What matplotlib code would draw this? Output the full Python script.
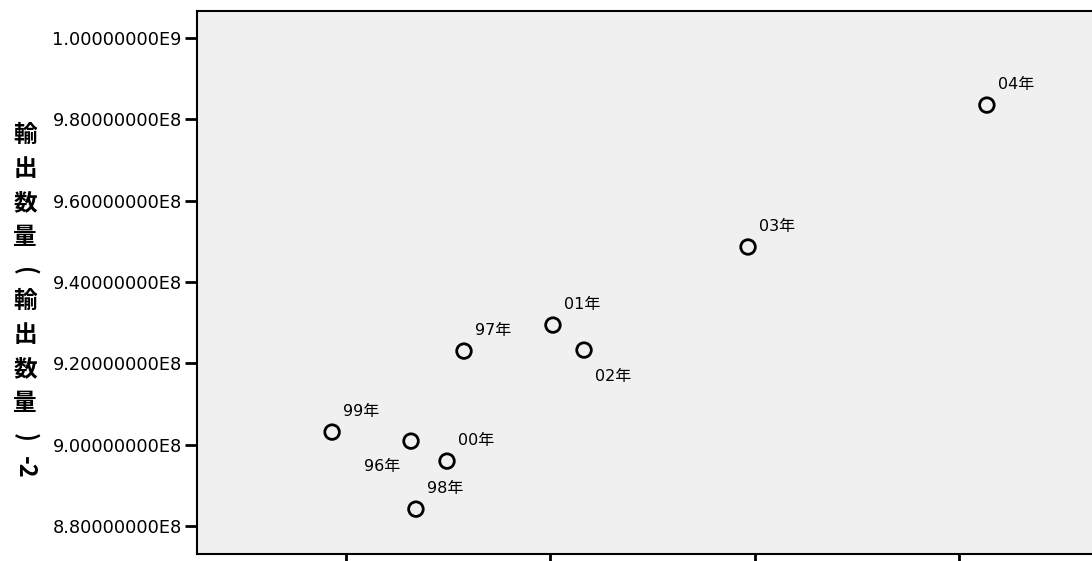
import matplotlib
matplotlib.use("Agg")
import matplotlib.pyplot as plt

plt.rcParams['font.family'] = ['DejaVu Sans', 'Noto Sans CJK JP']

# data (x labels are cut off in the reference)
years = ["96年", "97年", "98年", "99年", "00年", "01年", "02年", "03年", "04年"]
x_vals = [1.318, 1.577, 1.342, 0.932, 1.494, 2.012, 2.164, 2.966, 4.134]
y_vals = [9.0086e8, 9.230e8, 8.8413e8, 9.0308e8, 8.9594e8, 9.294e8, 9.2325e8, 9.486e8, 9.835e8]
# label placement (pixels) relative to each point
offsets = {"96年": (-11, -25, "right"), "02年": (11, -26, "left")}
y_ticks = [8.8e8, 9.0e8, 9.2e8, 9.4e8, 9.6e8, 9.8e8, 1.0e9]
y_tick_labels = ["8.80000000E8", "9.00000000E8", "9.20000000E8", "9.40000000E8",
                 "9.60000000E8", "9.80000000E8", "1.00000000E9"]
x_ticks = [1, 2, 3, 4]
y_label = ["輸", "出", "数", "量", "(", "輸", "出", "数", "量", ")", "-2"]

fig = plt.figure(figsize=(10.92, 5.61), dpi=100)
ax = fig.add_axes([197/1092, 7/561, 1 - 197/1092, 543/561])
ax.set_facecolor("#f0f0f0")

ax.scatter(x_vals, y_vals, s=110, facecolors="none", edgecolors="black", linewidths=2, zorder=3)
for name, x, y in zip(years, x_vals, y_vals):
    dx, dy, ha = offsets.get(name, (11, 21, "left"))
    ax.annotate(name, (x, y), xytext=(dx, dy), textcoords="offset pixels",
                ha=ha, va="center", fontsize=11.5)

ax.set_xlim(0.2714, 4.648)
ax.set_ylim(8.731e8, 1.00664e9)
ax.set_yticks(y_ticks)
ax.set_yticklabels(y_tick_labels, fontsize=12.8)
ax.set_xticks(x_ticks)
ax.set_xticklabels([])
ax.tick_params(axis="y", length=9, width=2, pad=2)
ax.tick_params(axis="x", length=12, width=2)
for s in ["left", "bottom", "top"]:
    ax.spines[s].set_linewidth(1.5)
ax.spines["right"].set_visible(False)

# vertical stacked axis title: CJK upright, other glyphs turned clockwise
ypix = 135
for ch in y_label:
    upright = ch not in ("(", ")", "-2")
    fig.text(25/1092, 1 - ypix/561, ch, ha="center", va="center",
             fontsize=17, fontweight="bold", rotation=0 if upright else -90,
             family=['Noto Sans CJK JP', 'DejaVu Sans'])
    ypix += 34 if upright else 30

fig.savefig("out.png", dpi=100)
